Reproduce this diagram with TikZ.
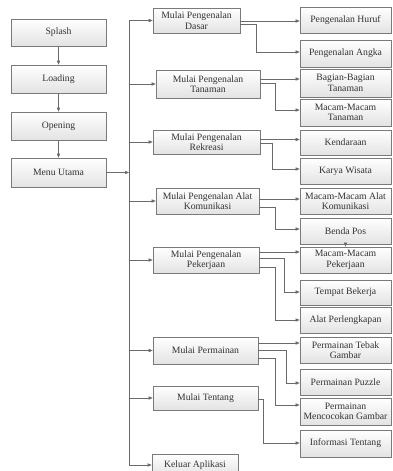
\documentclass[tikz,border=0pt]{standalone}
\usepackage{fontspec}
\setmainfont{Liberation Serif}
\usetikzlibrary{arrows.meta}
\definecolor{edgec}{HTML}{7A7A7A}
\definecolor{linec}{HTML}{6A6A6A}
\definecolor{txtc}{HTML}{333333}
\tikzset{
  box/.style={draw=edgec, line width=0.7pt, top color=white, bottom color=gray!22,
    inner sep=0.5pt, align=center, text=txtc, font=\fontsize{9.7}{10.6}\selectfont},
  wire/.style={draw=linec, line width=0.6pt},
  conn/.style={wire, -{Triangle[length=4pt,width=3.2pt]}},
}
\begin{document}
\begin{tikzpicture}[x=1pt,y=-1pt]
\useasboundingbox[fill=white] (0,0) rectangle (392,471);
% left column
\node[box, minimum width=95, minimum height=27] (splash) at (58.5,32.5) {Splash};
\node[box, minimum width=95, minimum height=28] (loading) at (58.5,79) {Loading};
\node[box, minimum width=95, minimum height=28] (opening) at (58.5,126) {Opening};
\node[box, minimum width=95, minimum height=29] (menu) at (58.5,172.5) {Menu Utama};
% middle column
\node[box, minimum width=87, minimum height=25] (dasar) at (196.5,20.5) {Mulai Pengenalan\\Dasar};
\node[box, minimum width=104, minimum height=28] (tanaman) at (208,84) {Mulai Pengenalan\\Tanaman};
\node[box, minimum width=107, minimum height=24] (rekreasi) at (206.5,142) {Mulai Pengenalan\\Rekreasi};
\node[box, minimum width=103, minimum height=26] (komunikasi) at (207.5,201) {Mulai Pengenalan Alat\\Komunikasi};
\node[box, minimum width=106, minimum height=26] (pekerjaan) at (206,260) {Mulai Pengenalan\\Pekerjaan};
\node[box, minimum width=105, minimum height=27] (permainan) at (205.5,350.5) {Mulai Permainan};
\node[box, minimum width=105, minimum height=24] (tentang) at (205.5,398) {Mulai Tentang};
\node[box, minimum width=86, minimum height=22] (keluar) at (195,465) {Keluar Aplikasi};
% right column
\node[box, minimum width=91, minimum height=26] (huruf) at (345.5,20) {Pengenalan Huruf};
\node[box, minimum width=91, minimum height=27] (angka) at (345.5,53.5) {Pengenalan Angka};
\node[box, minimum width=91, minimum height=28] (bagian) at (345.5,83) {Bagian-Bagian\\Tanaman};
\node[box, minimum width=91, minimum height=27] (mactan) at (345.5,112.5) {Macam-Macam\\Tanaman};
\node[box, minimum width=91, minimum height=25] (kendaraan) at (345.5,142.5) {Kendaraan};
\node[box, minimum width=91, minimum height=26] (karya) at (345.5,171) {Karya Wisata};
\node[box, minimum width=91, minimum height=26] (alatkom) at (345.5,201) {Macam-Macam Alat\\Komunikasi};
\node[box, minimum width=91, minimum height=26] (benda) at (345.5,231) {Benda Pos};
\node[box, minimum width=91, minimum height=26] (macpek) at (345.5,260) {Macam-Macam\\Pekerjaan};
\node[box, minimum width=91, minimum height=25] (tempat) at (345.5,292.5) {Tempat Bekerja};
\node[box, minimum width=91, minimum height=26] (alatper) at (345.5,320) {Alat Perlengkapan};
\node[box, minimum width=91, minimum height=26] (tebak) at (345.5,350) {Permainan Tebak\\Gambar};
\node[box, minimum width=91, minimum height=26] (puzzle) at (345.5,382) {Permainan Puzzle};
\node[box, minimum width=91, minimum height=27] (cocok) at (345.5,411.5) {Permainan\\Mencocokan Gambar};
\node[box, minimum width=91, minimum height=27] (info) at (345.5,443.5) {Informasi Tentang};
% left chain
\draw[conn] (splash) -- (loading);
\draw[conn] (loading) -- (opening);
\draw[conn] (opening) -- (menu);
% trunk
\coordinate (tk) at (129,0);
\draw[conn] (menu.east) -- (tk |- menu.east);
\draw[wire] (tk |- dasar.west) -- (tk |- keluar.west);
\foreach \n in {dasar,tanaman,rekreasi,komunikasi,pekerjaan,permainan,tentang,keluar}
  \draw[conn] (tk |- \n.west) -- (\n.west);
% middle to right
\draw[conn] (dasar.east |- 0,21) -- (huruf.west |- 0,21);
\draw[conn] (dasar.east |- 0,24.5) -| (256,52) -- (angka.west |- 0,52);
\draw[conn] (tanaman.east |- 0,79) -- (bagian.west |- 0,79);
\draw[conn] (tanaman.east |- 0,83) -| (275,110) -- (mactan.west |- 0,110);
\draw[conn] (rekreasi.east |- 0,139.5) -- (kendaraan.west |- 0,139.5);
\draw[conn] (rekreasi.east |- 0,143.5) -| (272,169) -- (karya.west |- 0,169);
\draw[conn] (komunikasi.east |- 0,199) -- (alatkom.west |- 0,199);
\draw[conn] (komunikasi.east |- 0,207) -| (275,229) -- (benda.west |- 0,229);
\draw[conn] (pekerjaan.east |- 0,252) -- (macpek.west |- 0,252);
\draw[conn] (pekerjaan.east |- 0,258) -| (284,292) -- (tempat.west |- 0,292);
\draw[conn] (pekerjaan.east |- 0,267) -| (275,320) -- (alatper.west |- 0,320);
\draw[conn] (permainan.east |- 0,343) -- (tebak.west |- 0,343);
\draw[conn] (permainan.east |- 0,350) -| (286,383) -- (puzzle.west |- 0,383);
\draw[conn] (permainan.east |- 0,358) -| (275,405) -- (cocok.west |- 0,405);
\draw[conn] (tentang.east |- 0,399) -| (263,443) -- (info.west |- 0,443);
\draw[conn] (benda.south) -- (macpek.north);
\end{tikzpicture}
\end{document}
